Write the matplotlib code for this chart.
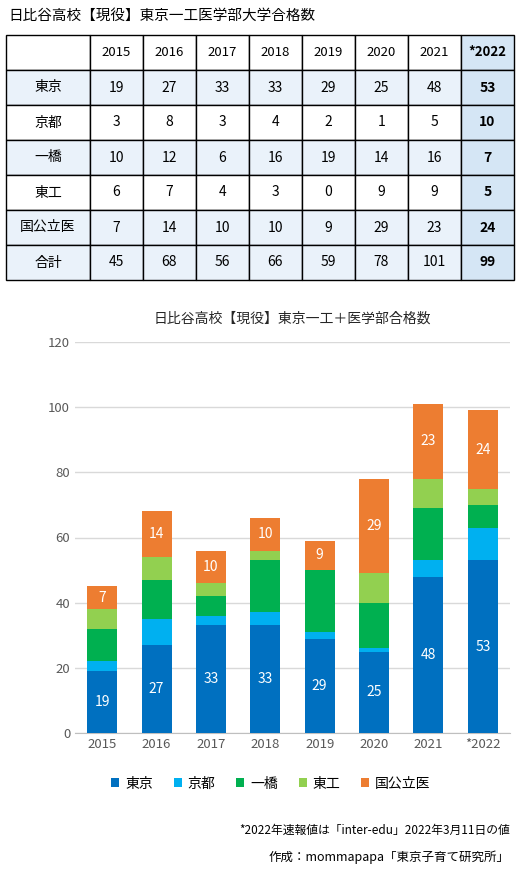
import matplotlib
matplotlib.use("Agg")
import matplotlib.pyplot as plt
from matplotlib.patches import Rectangle
import numpy as np

plt.rcParams['font.family'] = ['Noto Sans CJK JP', 'DejaVu Sans']

years = ['2015', '2016', '2017', '2018', '2019', '2020', '2021', '*2022']
schools = ['東京', '京都', '一橋', '東工', '国公立医']
tokyo = [19, 27, 33, 33, 29, 25, 48, 53]
kyoto = [3, 8, 3, 4, 2, 1, 5, 10]
hitotsubashi = [10, 12, 6, 16, 19, 14, 16, 7]
tokodai = [6, 7, 4, 3, 0, 9, 9, 5]
medical = [7, 14, 10, 10, 9, 29, 23, 24]
series = [tokyo, kyoto, hitotsubashi, tokodai, medical]
totals = [45, 68, 56, 66, 59, 78, 101, 99]
colors = ['#0070C0', '#00B0F0', '#00B050', '#92D050', '#ED7D31']

W, H = 521, 874
fig = plt.figure(figsize=(W/100, H/100), dpi=100)

# ---- table in pixel coordinates
tax = fig.add_axes([0, 0, 1, 1])
tax.set_xlim(0, W); tax.set_ylim(H, 0); tax.axis('off')
tax.text(8, 16, '日比谷高校【現役】東京一工医学部大学合格数', fontsize=10.5, va='center', ha='left')
x0, c0w, cw, y0, rh = 6, 84, 53, 35, 35
rows = [schools[i] for i in range(5)] + ['合計']
rowvals = series + [totals]
shaded = {0, 2, 4, 5}
for r in range(7):
    y = y0 + r * rh
    for c in range(9):
        x = x0 if c == 0 else x0 + c0w + (c - 1) * cw
        w = c0w if c == 0 else cw
        fc = 'white'
        if r >= 1 and (r - 1) in shaded:
            fc = '#EAF2FA'
        if c == 8:
            fc = '#D5E6F5'
        tax.add_patch(Rectangle((x, y), w, rh, facecolor=fc, edgecolor='black', lw=1))
        txt = ''
        bold = (c == 8)
        if r == 0 and c > 0:
            txt = years[c - 1]
        elif r > 0 and c == 0:
            txt = rows[r - 1]
        elif r > 0:
            txt = str(rowvals[r - 1][c - 1])
        if txt:
            tax.text(x + w/2, y + rh/2, txt, ha='center', va='center',
                     fontsize=10 if r > 0 else 9.5,
                     fontweight='bold' if bold else 'normal')

# ---- chart
ax = fig.add_axes([75/W, 1 - 733/H, 435/W, (733-342)/H])
xs = np.arange(len(years))
bottom = np.zeros(len(years))
for s, vals, col in zip(schools, series, colors):
    ax.bar(xs, vals, 0.55, bottom=bottom, color=col, label=s, zorder=3)
    if s in ('東京', '国公立医'):
        for xi, v, b in zip(xs, vals, bottom):
            ax.text(xi, b + v/2, str(v), ha='center', va='center', color='white', fontsize=10, zorder=4)
    bottom += np.array(vals)
ax.set_ylim(0, 120)
ax.set_yticks(range(0, 121, 20))
ax.set_xticks(xs, years)
ax.set_xlim(-0.5, len(years) - 0.5)
ax.grid(axis='y', color='#D9D9D9', lw=1, zorder=0)
for sp in ['top', 'right', 'left']:
    ax.spines[sp].set_visible(False)
ax.spines['bottom'].set_color('#BFBFBF')
ax.tick_params(length=0, colors='#595959', labelsize=9.5)
ax.set_title('日比谷高校【現役】東京一工＋医学部合格数', fontsize=10, pad=14, color='#262626')
ax.legend(loc='upper center', bbox_to_anchor=(0.45, -0.08), ncol=5, frameon=False,
          fontsize=10, handlelength=0.6, handleheight=0.6, columnspacing=1.5, handletextpad=0.4)

fig.text(510/W, 1 - 830/H, '*2022年速報値は「inter-edu」2022年3月11日の値', ha='right', va='center', fontsize=8.5)
fig.text(510/W, 1 - 857/H, '作成：mommapapa「東京子育て研究所」', ha='right', va='center', fontsize=9)

fig.savefig('out.png', dpi=100)
